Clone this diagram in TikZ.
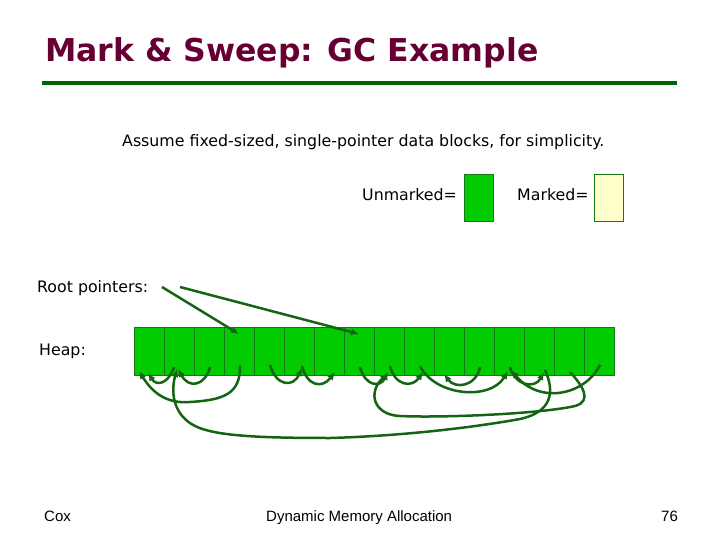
\documentclass[tikz,border=0pt]{standalone}
\usepackage{fontspec}
\setmainfont{DejaVu Sans}
\newfontfamily\footfont{Liberation Sans}
\usetikzlibrary{arrows.meta}
\definecolor{titlecol}{RGB}{102,0,51}
\definecolor{rulecol}{RGB}{0,102,0}
\definecolor{heapgreen}{RGB}{0,204,0}
\definecolor{cellline}{RGB}{20,120,20}
\definecolor{ptrcol}{RGB}{20,100,20}
\definecolor{markyellow}{RGB}{255,255,204}
\tikzset{
  txt/.style={inner sep=0pt, anchor=base west},
  bodyfont/.style={font=\fontsize{15.8}{18}\selectfont},
  footfnt/.style={font=\footfont\fontsize{15}{17}\selectfont},
  cellbox/.style={draw=cellline, line width=0.8pt, fill=heapgreen, minimum width=30pt, minimum height=48pt, inner sep=0pt},
  ptr/.style={draw=ptrcol, line width=2.5pt, -{Latex[length=8pt,width=7pt]}},
  keybox/.style={draw=cellline, line width=0.8pt, minimum width=29pt, minimum height=47pt, inner sep=0pt}
}
\begin{document}
\begin{tikzpicture}[x=1pt,y=-1pt]
\useasboundingbox (0,0) rectangle (720,540);
% title
\node[txt, text=titlecol, font=\fontsize{31.5}{36}\selectfont\bfseries] (title) at (45,62) {Mark \& Sweep: GC Example};
\draw[rulecol, line width=4pt] (42,83) -- (677,83);
\node[txt, bodyfont] (assume) at (122,147) {Assume fixed-sized, single-pointer data blocks, for simplicity.};
\node[txt, bodyfont] (unm) at (362,201) {Unmarked=};
\node[keybox, fill=heapgreen] (unmbox) at (478.5,197.5) {};
\node[txt, bodyfont] (mrk) at (517,201) {Marked=};
\node[keybox, fill=markyellow] (mrkbox) at (609,197.5) {};
\node[txt, bodyfont] (root) at (37,292) {Root pointers:};
\node[txt, bodyfont] (heap) at (39,355) {Heap:};
% heap cells
\foreach \i in {0,...,15} {
  \node[cellbox] (c\i) at ({149+30*\i},351) {};
}
% root pointers
\coordinate (r1) at (162,287);
\coordinate (r2) at (180,287);
\draw[ptr] (r1) -- ([shift={(0,-17)}]c3.center);
\draw[ptr] (r2) -- ([shift={(0,-17)}]c7.center);
% heap pointers
% 1 -> 0
\draw[ptr] ([shift={(-5,16)}]c1.center) .. controls (169,383) and (157,387) .. ([shift={(-1,22)}]c0.center);
% 3 -> 0
\draw[ptr] ([shift={(1,14)}]c3.center) .. controls (241,395) and (222,400) .. (190,402)
   .. controls (166,404) and (152,392) .. ([shift={(-10,20)}]c0.center);
% 2 -> 1
\draw[ptr] ([shift={(1,16)}]c2.center) .. controls (205,386) and (189,389) .. ([shift={(-1,18)}]c1.center);
% 13 -> 1
\draw[ptr] ([shift={(6,19)}]c13.center) .. controls (555,392) and (552,412) .. (520,419)
   .. controls (470,428) and (400,436) .. (330,438)
   .. controls (260,438) and (215,436) .. (195,426)
   .. controls (175,416) and (170,395) .. ([shift={(-2,18)}]c1.center);
% 4 -> 5
\draw[ptr] ([shift={(1,14)}]c4.center) .. controls (276,386) and (293,388) .. ([shift={(3,17)}]c5.center);
% 5 -> 6
\draw[ptr] ([shift={(3,15)}]c5.center) .. controls (307,386) and (322,389) .. ([shift={(6,21)}]c6.center);
% 7 -> 8
\draw[ptr] ([shift={(1,16)}]c7.center) .. controls (365,386) and (380,388) .. ([shift={(-1,21)}]c8.center);
% 8 -> 9
\draw[ptr] ([shift={(1,15)}]c8.center) .. controls (395,386) and (412,388) .. ([shift={(4,21)}]c9.center);
% 14 -> 8 (loop)
\draw[ptr] ([shift={(1,21)}]c14.center) .. controls (582,385) and (593,401) .. (575,406)
   .. controls (540,414) and (440,418) .. (400,416)
   .. controls (374,415) and (367,393) .. ([shift={(-1,22)}]c8.center);
% 11 -> 10
\draw[ptr] ([shift={(1,16)}]c11.center) .. controls (476,387) and (455,389) .. ([shift={(-5,23)}]c10.center);
% 9 -> 12
\draw[ptr] ([shift={(1,15)}]c9.center) .. controls (435,396) and (490,401) .. ([shift={(-1,20)}]c12.center);
% 12 -> 13
\draw[ptr] ([shift={(1,16)}]c12.center) .. controls (515,386) and (535,389) .. ([shift={(5,21)}]c13.center);
% 15 -> 12
\draw[ptr] ([shift={(1,14)}]c15.center) .. controls (585,395) and (540,405) .. ([shift={(2,19)}]c12.center);
% footer
\node[txt, footfnt] (cox) at (44,521) {Cox};
\node[txt, footfnt] (dma) at (266,521) {Dynamic Memory Allocation};
\node[txt, footfnt] (pg) at (661,521) {76};
\end{tikzpicture}
\end{document}
